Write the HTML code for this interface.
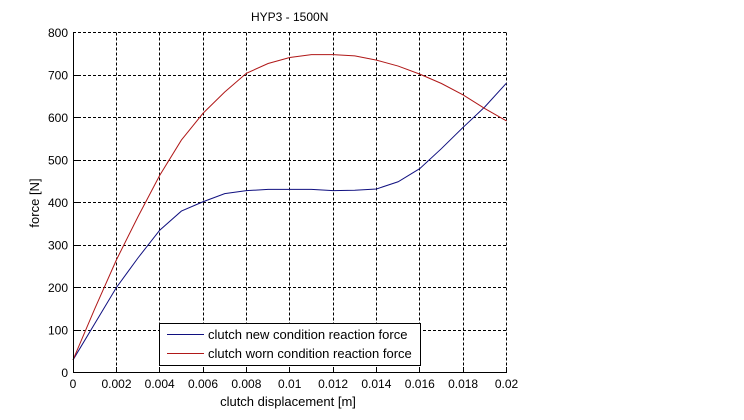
<!DOCTYPE html>
<html>
<head>
<meta charset="utf-8">
<style>
html,body{margin:0;padding:0;background:#fff;}
svg{display:block;}
text{font-family:"Liberation Sans",Arial,sans-serif;font-size:12px;fill:#000;}
.big{font-size:13px;}
</style>
</head>
<body>
<svg width="744" height="420" viewBox="0 0 744 420" xmlns="http://www.w3.org/2000/svg">
<rect x="0" y="0" width="744" height="420" fill="#fff"/>
<!-- grid -->
<g stroke="#000" stroke-width="1" stroke-dasharray="3,2" fill="none">
<line x1="116.5" y1="32.5" x2="116.5" y2="372.5"/>
<line x1="159.5" y1="32.5" x2="159.5" y2="372.5"/>
<line x1="203.5" y1="32.5" x2="203.5" y2="372.5"/>
<line x1="246.5" y1="32.5" x2="246.5" y2="372.5"/>
<line x1="289.5" y1="32.5" x2="289.5" y2="372.5"/>
<line x1="333.5" y1="32.5" x2="333.5" y2="372.5"/>
<line x1="376.5" y1="32.5" x2="376.5" y2="372.5"/>
<line x1="419.5" y1="32.5" x2="419.5" y2="372.5"/>
<line x1="463.5" y1="32.5" x2="463.5" y2="372.5"/>
<line x1="506.5" y1="32.5" x2="506.5" y2="372.5"/>
<line x1="73" y1="330.5" x2="506.5" y2="330.5"/>
<line x1="73" y1="287.5" x2="506.5" y2="287.5"/>
<line x1="73" y1="245.5" x2="506.5" y2="245.5"/>
<line x1="73" y1="202.5" x2="506.5" y2="202.5"/>
<line x1="73" y1="160.5" x2="506.5" y2="160.5"/>
<line x1="73" y1="117.5" x2="506.5" y2="117.5"/>
<line x1="73" y1="75.5" x2="506.5" y2="75.5"/>
<line x1="73" y1="32.5" x2="506.5" y2="32.5"/>
</g>
<!-- series -->
<polyline fill="none" stroke="#101080" stroke-width="1" points="73,359.94 94.68,323.79 116.35,287.64 138.03,257.87 159.7,230.22 181.38,211.09 203.05,201.73 224.73,193.65 246.4,190.67 268.08,189.4 289.75,189.4 311.43,189.4 333.1,190.67 354.78,190.25 376.45,188.97 398.13,181.74 419.8,168.56 441.48,148.57 463.15,127.3 484.83,106.89 506.5,83.07"/>
<polyline fill="none" stroke="#b01818" stroke-width="1" points="73,359.94 94.68,308.9 116.35,260 138.03,216.6 159.7,175.37 181.38,140.07 203.05,113.27 224.73,92 246.4,73.28 268.08,63.5 289.75,57.55 311.43,54.57 333.1,54.57 354.78,55.85 376.45,60.1 398.13,66.06 419.8,74.14 441.48,83.5 463.15,94.98 484.83,108.6 506.5,120.92"/>
<!-- legend -->
<rect x="159.5" y="323.5" width="261" height="42" fill="#fff" stroke="#000" stroke-width="1"/>
<line x1="167" y1="334.5" x2="204" y2="334.5" stroke="#101080" stroke-width="1"/>
<line x1="167" y1="353.5" x2="204" y2="353.5" stroke="#b01818" stroke-width="1"/>
<text class="big" x="208" y="339">clutch new condition reaction force</text>
<text class="big" x="208" y="358">clutch worn condition reaction force</text>
<!-- axes -->
<g stroke="#000" stroke-width="1" fill="none">
<line x1="73.5" y1="32" x2="73.5" y2="373"/>
<line x1="73" y1="372.5" x2="507" y2="372.5"/>
<line x1="116.5" y1="372.5" x2="116.5" y2="367"/>
<line x1="159.5" y1="372.5" x2="159.5" y2="367"/>
<line x1="203.5" y1="372.5" x2="203.5" y2="367"/>
<line x1="246.5" y1="372.5" x2="246.5" y2="367"/>
<line x1="289.5" y1="372.5" x2="289.5" y2="367"/>
<line x1="333.5" y1="372.5" x2="333.5" y2="367"/>
<line x1="376.5" y1="372.5" x2="376.5" y2="367"/>
<line x1="419.5" y1="372.5" x2="419.5" y2="367"/>
<line x1="463.5" y1="372.5" x2="463.5" y2="367"/>
<line x1="506.5" y1="372.5" x2="506.5" y2="367"/>
<line x1="73.5" y1="330.5" x2="78" y2="330.5"/>
<line x1="73.5" y1="287.5" x2="78" y2="287.5"/>
<line x1="73.5" y1="245.5" x2="78" y2="245.5"/>
<line x1="73.5" y1="202.5" x2="78" y2="202.5"/>
<line x1="73.5" y1="160.5" x2="78" y2="160.5"/>
<line x1="73.5" y1="117.5" x2="78" y2="117.5"/>
<line x1="73.5" y1="75.5" x2="78" y2="75.5"/>
</g>
<!-- y tick labels -->
<g text-anchor="end">
<text x="68" y="377">0</text>
<text x="68" y="334.5">100</text>
<text x="68" y="292">200</text>
<text x="68" y="249.5">300</text>
<text x="68" y="207">400</text>
<text x="68" y="164.5">500</text>
<text x="68" y="122">600</text>
<text x="68" y="79.5">700</text>
<text x="68" y="37">800</text>
</g>
<!-- x tick labels -->
<g text-anchor="middle">
<text x="73" y="388">0</text>
<text x="116.5" y="388">0.002</text>
<text x="159.7" y="388">0.004</text>
<text x="203" y="388">0.006</text>
<text x="246.4" y="388">0.008</text>
<text x="289.7" y="388">0.01</text>
<text x="333.1" y="388">0.012</text>
<text x="376.4" y="388">0.014</text>
<text x="419.8" y="388">0.016</text>
<text x="463.1" y="388">0.018</text>
<text x="506.5" y="388">0.02</text>
</g>
<text x="289.7" y="21" text-anchor="middle">HYP3 - 1500N</text>
<text class="big" x="288" y="406" text-anchor="middle">clutch displacement [m]</text>
<text class="big" x="0" y="0" text-anchor="middle" transform="translate(39,203) rotate(-90)">force [N]</text>
</svg>
</body>
</html>
